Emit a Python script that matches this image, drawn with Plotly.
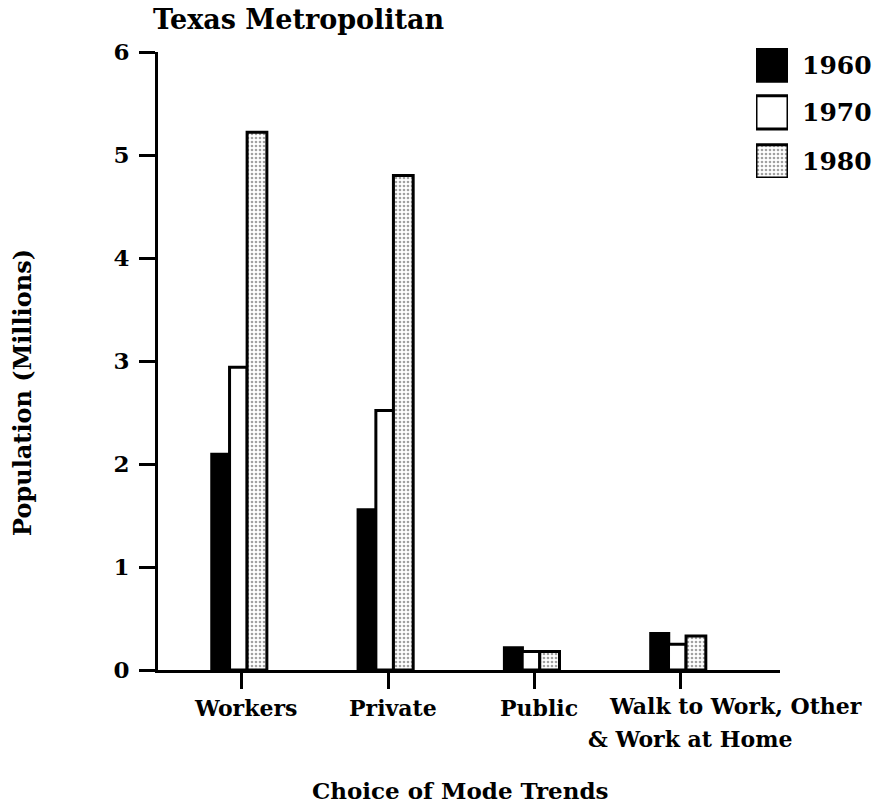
import plotly.graph_objects as go

# ---- data (millions of people) ----
categories = ["Workers", "Private", "Public", "Walk to Work, Other", "& Work at Home"]
cat_lines = [["Workers"], ["Private"], ["Public"], ["Walk to Work, Other", "& Work at Home"]]
years = ["1960", "1970", "1980"]
pop_1960 = [2.10, 1.56, 0.22, 0.36]
pop_1970 = [2.94, 2.52, 0.18, 0.25]
pop_1980 = [5.22, 4.80, 0.18, 0.33]
y_ticks = [0, 1, 2, 3, 4, 5, 6]

FONT = "DejaVu Serif"
W, H = 878, 805
ML, MR, MT, MB = 158, 5, 30, 135
PW, PH = W - ML - MR, H - MT - MB


def px_x(p):
    return (p - ML) / PW


def px_y(p):
    return (H - MB - p) / PH


x_pos = list(range(len(pop_1960)))
series = [pop_1960, pop_1970, pop_1980]

# bar styles: solid black, open white, dotted screen
styles = [
    dict(color="black", line=dict(color="black", width=2)),
    dict(color="white", line=dict(color="black", width=3)),
    dict(color="white", line=dict(color="black", width=3),
         pattern=dict(shape=".", size=4, solidity=0.35, fgcolor="#444", bgcolor="white")),
]
offsets = [-0.21, -0.085, 0.035]
widths = [0.13, 0.12, 0.135]

fig = go.Figure()
for vals, st, off, wd, yr in zip(series, styles, offsets, widths, years):
    fig.add_trace(go.Bar(x=x_pos, y=vals, offset=off, width=wd, marker=st,
                         name=yr, showlegend=False, xaxis="x", yaxis="y"))

# legend swatches drawn as bars on a small auxiliary axis pair
leg_base = [2.22, 1.13, 0.0]
leg_h = 0.77
for st, b, yr in zip(styles, leg_base, years):
    fig.add_trace(go.Bar(x=[0.5], y=[leg_h], base=[b], width=1, marker=st,
                         showlegend=False, xaxis="x2", yaxis="y2", hoverinfo="skip"))

annotations = []
# legend labels
for yr, yc in zip(years, [65, 112, 161]):
    annotations.append(dict(text="<b>%s</b>" % yr, xref="paper", yref="paper",
                            x=px_x(800), y=px_y(yc), xanchor="left", yanchor="middle",
                            showarrow=False, font=dict(family=FONT, size=25, color="black")))

# category labels under the axis (one annotation per text line)
line_shift = [[4], [5], [4], [55, 9]]
for xp, lines, shifts in zip(x_pos, cat_lines, line_shift):
    for i, (txt, sh) in enumerate(zip(lines, shifts)):
        annotations.append(dict(text="<b>%s</b>" % txt, x=xp, y=0, xref="x", yref="y",
                                xanchor="center", yanchor="middle",
                                yshift=-38 - 33 * i + (2 if len(lines) > 1 else 0),
                                xshift=sh, showarrow=False,
                                font=dict(family=FONT, size=22, color="black")))

# titles
annotations.append(dict(text="<b>Texas Metropolitan</b>", xref="paper", yref="paper",
                        x=px_x(151), y=px_y(19), xanchor="left", yanchor="middle",
                        showarrow=False, font=dict(family=FONT, size=27, color="black")))
annotations.append(dict(text="<b>Population (Millions)</b>", xref="paper", yref="paper",
                        x=px_x(22), y=px_y(393), xanchor="center", yanchor="middle",
                        textangle=-90, showarrow=False,
                        font=dict(family=FONT, size=24, color="black")))
annotations.append(dict(text="<b>Choice of Mode Trends</b>", xref="paper", yref="paper",
                        x=px_x(460), y=px_y(790), xanchor="center", yanchor="middle",
                        showarrow=False, font=dict(family=FONT, size=23, color="black")))

fig.update_layout(
    width=W, height=H,
    margin=dict(l=ML, r=MR, t=MT, b=MB),
    paper_bgcolor="white", plot_bgcolor="white",
    barmode="overlay",
    showlegend=False,
    xaxis=dict(domain=[0, px_x(780)], range=[-0.574, 3.677], tickvals=x_pos,
               ticktext=["" for _ in x_pos], ticks="outside", ticklen=16, tickwidth=3,
               tickcolor="black", showline=True, linecolor="black", linewidth=3,
               showgrid=False, zeroline=False, fixedrange=True),
    yaxis=dict(domain=[0, px_y(52)], range=[0, 6], tickvals=y_ticks,
               ticktext=["<b>%d</b>" % v for v in y_ticks], ticks="outside", ticklen=16,
               tickwidth=3, tickcolor="black", showline=True, linecolor="black",
               linewidth=3, showgrid=False, zeroline=False, ticklabelstandoff=5,
               tickfont=dict(family=FONT, size=23, color="black"), fixedrange=True),
    xaxis2=dict(domain=[px_x(756), px_x(788)], range=[0, 1], anchor="y2",
                visible=False, fixedrange=True),
    yaxis2=dict(domain=[px_y(178), px_y(48)], range=[0, 3], anchor="x2",
                visible=False, fixedrange=True),
    annotations=annotations,
    font=dict(family=FONT, color="black"),
)

fig.write_html("out.html")
